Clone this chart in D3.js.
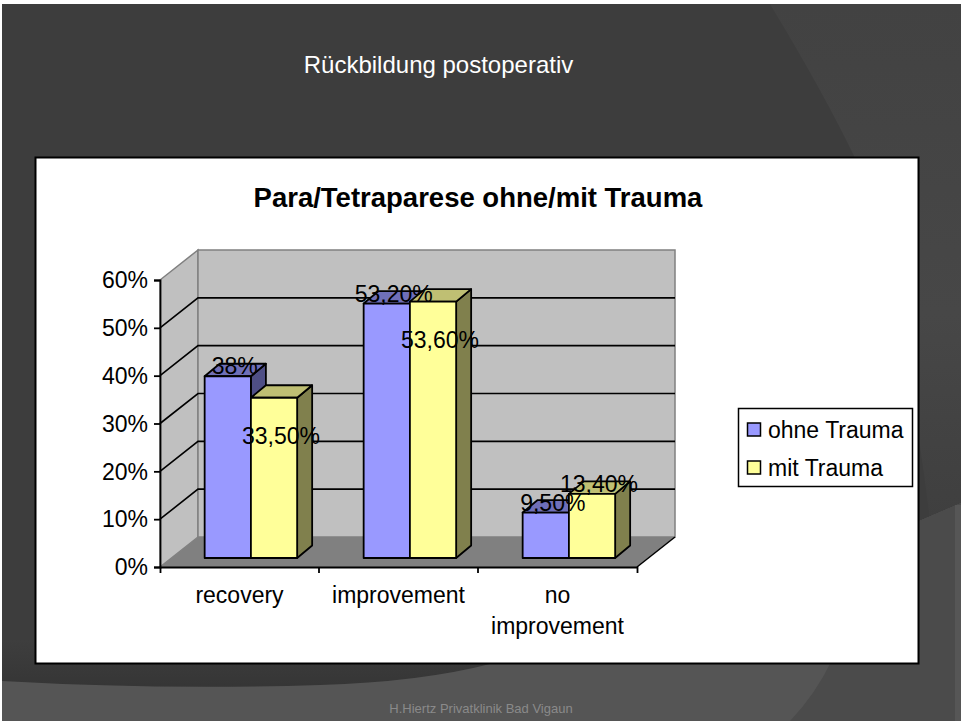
<!DOCTYPE html>
<html lang="en">
  <head>
    <meta charset="utf-8" />
    <title>Para/Tetraparese ohne/mit Trauma</title>
    <script src="https://d3js.org/d3.v7.min.js"></script>
    <style type="text/css">
      body {
        margin: 0;
        background: white;
      }
      svg {
        display: block;
      }
      text {
        font-family: "Liberation Sans", Arial, sans-serif;
        fill: black;
      }
    </style>
  </head>
  <body>
    <script type="text/javascript">
      // Data
      const categories = ["recovery", "improvement", "no improvement"];
      const seriesNames = ["ohne Trauma", "mit Trauma"];
      const ohneTrauma = [38, 53.2, 9.5];
      const mitTrauma = [33.5, 53.6, 13.4];
      const ohneLabels = ["38%", "53,20%", "9,50%"];
      const mitLabels = ["33,50%", "53,60%", "13,40%"];
      const yTicks = [0, 10, 20, 30, 40, 50, 60];

      const w = 961;
      const h = 721;

      // Front plane of the 3D box and how far back the wall sits
      const axisLeft = 160;
      const axisRight = 637;
      const axisBottom = 567;
      const axisTop = 280;
      const wallDx = 38;
      const wallDy = -30;
      const barDx = 15;
      const barDy = -12.5;
      const labelFont = "23px";

      const svg = d3
        .select("body")
        .append("svg")
        .attr("width", w)
        .attr("height", h);

      // Slide background
      const defs = svg.append("defs");
      const bandShade = defs
        .append("linearGradient")
        .attr("id", "bandShade")
        .attr("x1", 0)
        .attr("y1", 0)
        .attr("x2", 0)
        .attr("y2", 1);
      bandShade.append("stop").attr("offset", "0%").attr("stop-color", "#3e3e3e");
      bandShade.append("stop").attr("offset", "100%").attr("stop-color", "#353535");
      const rightShade = defs
        .append("linearGradient")
        .attr("id", "rightShade")
        .attr("x1", 0)
        .attr("y1", 0)
        .attr("x2", 0)
        .attr("y2", 1);
      rightShade.append("stop").attr("offset", "0%").attr("stop-color", "#424242");
      rightShade.append("stop").attr("offset", "60%").attr("stop-color", "#474747");
      rightShade.append("stop").attr("offset", "100%").attr("stop-color", "#3f3f3f");

      svg.append("rect").attr("x", 2).attr("y", 4).attr("width", w - 2).attr("height", h - 4).attr("fill", "#3d3d3d");
      svg
        .append("path")
        .attr("d", "M770,4 Q825,95 856,160 Q900,280 930,520 L961,520 L961,4 Z")
        .attr("fill", "url(#rightShade)");
      svg
        .append("rect")
        .attr("x", 2)
        .attr("y", 640)
        .attr("width", 560)
        .attr("height", 50)
        .attr("fill", "url(#bandShade)");
      svg
        .append("path")
        .attr("d", "M2,681 Q160,690 320,685 Q420,682 490,664 L919,521 L961,503 L961,721 L2,721 Z")
        .attr("fill", "#555555");
      svg
        .append("path")
        .attr("d", "M832,660 Q815,695 790,721 L961,721 L961,503 L919,521 Z")
        .attr("fill", "#4b4b4b");
      svg.append("rect").attr("x", 955).attr("y", 505).attr("width", 6).attr("height", 216).attr("fill", "#565656");

      svg
        .append("text")
        .attr("x", 438.5)
        .attr("y", 73)
        .attr("text-anchor", "middle")
        .style("font-size", "24px")
        .style("fill", "white")
        .text("Rückbildung postoperativ");

      svg
        .append("text")
        .attr("x", 481)
        .attr("y", 713)
        .attr("text-anchor", "middle")
        .style("font-size", "13px")
        .style("fill", "#8a8a8a")
        .text("H.Hiertz Privatklinik Bad Vigaun");

      // Chart area
      svg
        .append("rect")
        .attr("x", 35.5)
        .attr("y", 157.5)
        .attr("width", 883)
        .attr("height", 506)
        .attr("fill", "white")
        .attr("stroke", "black")
        .attr("stroke-width", 2);

      svg
        .append("text")
        .attr("x", 478)
        .attr("y", 207)
        .attr("text-anchor", "middle")
        .style("font-size", "27.5px")
        .style("font-weight", "bold")
        .text("Para/Tetraparese ohne/mit Trauma");

      // Scales
      const y = d3.scaleLinear().domain([0, 60]).range([axisBottom, axisTop]);
      const x0 = d3.scaleBand().domain(categories).range([axisLeft, axisRight]);
      const x1 = d3.scaleBand().domain(seriesNames).range([0, 92.5]);
      const groupPad = (x0.step() - x1.range()[1]) / 2;

      const polygon = function (points) {
        return "M" + points.map((p) => p.join(",")).join("L") + "Z";
      };

      // Walls and floor
      svg
        .append("path")
        .attr(
          "d",
          polygon([
            [axisLeft, axisBottom],
            [axisLeft, axisTop],
            [axisLeft + wallDx, axisTop + wallDy],
            [axisLeft + wallDx, axisBottom + wallDy],
          ])
        )
        .attr("fill", "#c0c0c0")
        .attr("stroke", "#808080")
        .attr("stroke-width", 1.5);
      svg
        .append("path")
        .attr(
          "d",
          polygon([
            [axisLeft + wallDx, axisTop + wallDy],
            [axisRight + wallDx, axisTop + wallDy],
            [axisRight + wallDx, axisBottom + wallDy],
            [axisLeft + wallDx, axisBottom + wallDy],
          ])
        )
        .attr("fill", "#c0c0c0")
        .attr("stroke", "#808080")
        .attr("stroke-width", 1.5);
      svg
        .append("path")
        .attr(
          "d",
          polygon([
            [axisLeft, axisBottom],
            [axisRight, axisBottom],
            [axisRight + wallDx, axisBottom + wallDy],
            [axisLeft + wallDx, axisBottom + wallDy],
          ])
        )
        .attr("fill", "#808080");

      // Gridlines, on the back wall and running down the side wall
      const gridTicks = yTicks.filter((d) => d > 0 && d < 60);
      svg
        .append("g")
        .selectAll("path")
        .data(gridTicks)
        .enter()
        .append("path")
        .attr("d", function (d) {
          return (
            "M" + axisLeft + "," + y(d) +
            "L" + (axisLeft + wallDx) + "," + (y(d) + wallDy) +
            "L" + (axisRight + wallDx) + "," + (y(d) + wallDy)
          );
        })
        .attr("fill", "none")
        .attr("stroke", "black")
        .attr("stroke-width", 1.6);
      svg
        .append("path")
        .attr("d", "M" + (axisRight + wallDx) + "," + (axisBottom + wallDy) + "L" + axisRight + "," + axisBottom)
        .attr("stroke", "black")
        .attr("stroke-width", 1.5);

      // Axes
      const yAxis = svg
        .append("g")
        .attr("transform", "translate(" + axisLeft + ",0)")
        .call(
          d3
            .axisLeft(y)
            .tickValues(yTicks)
            .tickSize(6)
            .tickSizeOuter(6)
            .tickFormat((d) => d + "%")
        );
      yAxis.selectAll("path, line").attr("stroke", "black").attr("stroke-width", 1.8);
      yAxis.selectAll("text").style("font-size", labelFont).attr("dy", "0.34em").attr("x", -12);

      const xAxis = svg
        .append("g")
        .attr("transform", "translate(0," + axisBottom + ")")
        .call(d3.axisBottom(x0).tickSize(0).tickSizeOuter(6));
      xAxis.select("path").attr("stroke", "black").attr("stroke-width", 1.8);
      xAxis.selectAll("line").remove();

      // Ticks fall between the categories
      xAxis
        .selectAll("line.sep")
        .data(categories.slice(1))
        .enter()
        .append("line")
        .attr("class", "sep")
        .attr("x1", (d) => x0(d))
        .attr("x2", (d) => x0(d))
        .attr("y1", 0)
        .attr("y2", 6)
        .attr("stroke", "black")
        .attr("stroke-width", 1.8);

      xAxis.selectAll(".tick text").each(function (d) {
        const words = d.split(" ");
        const label = d3.select(this).text(null).attr("y", 36).attr("dy", 0).style("font-size", labelFont);
        words.forEach(function (word, i) {
          label
            .append("tspan")
            .attr("x", 0)
            .attr("dy", i === 0 ? 0 : 31)
            .text(word);
        });
      });

      // Bars, series by series so the second one sits over the first one's side
      const barOffsetX = wallDx * 0.3;
      const barOffsetY = wallDy * 0.3;
      const shades = [
        { front: "#9999ff", top: "#6f6fb8", side: "#4f4f85" },
        { front: "#ffff99", top: "#bfbf73", side: "#80804d" },
      ];
      const values = [ohneTrauma, mitTrauma];

      values.forEach(function (series, s) {
        const g = svg.append("g").selectAll("g").data(series).enter().append("g");
        const left = (d, i) => x0(categories[i]) + groupPad + x1(seriesNames[s]) + barOffsetX;
        const right = (d, i) => left(d, i) + x1.bandwidth();
        const base = axisBottom + barOffsetY;
        const top = (d) => y(d) + barOffsetY;

        g.append("path")
          .attr("fill", shades[s].side)
          .attr("d", (d, i) =>
            polygon([
              [right(d, i), top(d)],
              [right(d, i) + barDx, top(d) + barDy],
              [right(d, i) + barDx, base + barDy],
              [right(d, i), base],
            ])
          );
        g.append("path")
          .attr("fill", shades[s].top)
          .attr("d", (d, i) =>
            polygon([
              [left(d, i), top(d)],
              [left(d, i) + barDx, top(d) + barDy],
              [right(d, i) + barDx, top(d) + barDy],
              [right(d, i), top(d)],
            ])
          );
        g.append("rect")
          .attr("x", left)
          .attr("y", top)
          .attr("width", x1.bandwidth())
          .attr("height", (d) => base - top(d))
          .attr("fill", shades[s].front);
        g.selectAll("path, rect")
          .attr("stroke", "black")
          .attr("stroke-width", 1.8)
          .attr("stroke-linejoin", "round");
      });

      // Data labels go on top of everything
      const labelGroup = svg.append("g");
      [ohneLabels, mitLabels].forEach(function (labels, s) {
        labelGroup
          .selectAll("text.s" + s)
          .data(labels)
          .enter()
          .append("text")
          .attr("class", "s" + s)
          .attr("x", (d, i) => x0(categories[i]) + groupPad + x1(seriesNames[s]) + barOffsetX + x1.bandwidth() / 2 + 7)
          .attr("y", function (d, i) {
            const barTop = y(values[s][i]) + barOffsetY;
            // the first two yellow labels hang inside their bars
            return s === 1 && i < 2 ? barTop + 46 : barTop - 2;
          })
          .attr("text-anchor", "middle")
          .style("font-size", labelFont)
          .text((d) => d);
      });

      // Legend
      const legend = svg.append("g");
      legend
        .append("rect")
        .attr("x", 738.5)
        .attr("y", 408.5)
        .attr("width", 174)
        .attr("height", 78)
        .attr("fill", "white")
        .attr("stroke", "black")
        .attr("stroke-width", 1.5);
      const legendY = d3.scalePoint().domain(seriesNames).range([430, 468]);
      const legendItems = legend.selectAll("g").data(seriesNames).enter().append("g");
      legendItems
        .append("rect")
        .attr("x", 747.5)
        .attr("y", (d) => legendY(d) - 7)
        .attr("width", 13)
        .attr("height", 13)
        .attr("fill", (d, i) => shades[i].front)
        .attr("stroke", "black")
        .attr("stroke-width", 1.5);
      legendItems
        .append("text")
        .attr("x", 768)
        .attr("y", (d) => legendY(d) + 8)
        .style("font-size", labelFont)
        .text((d) => d);
    </script>
  </body>
</html>
